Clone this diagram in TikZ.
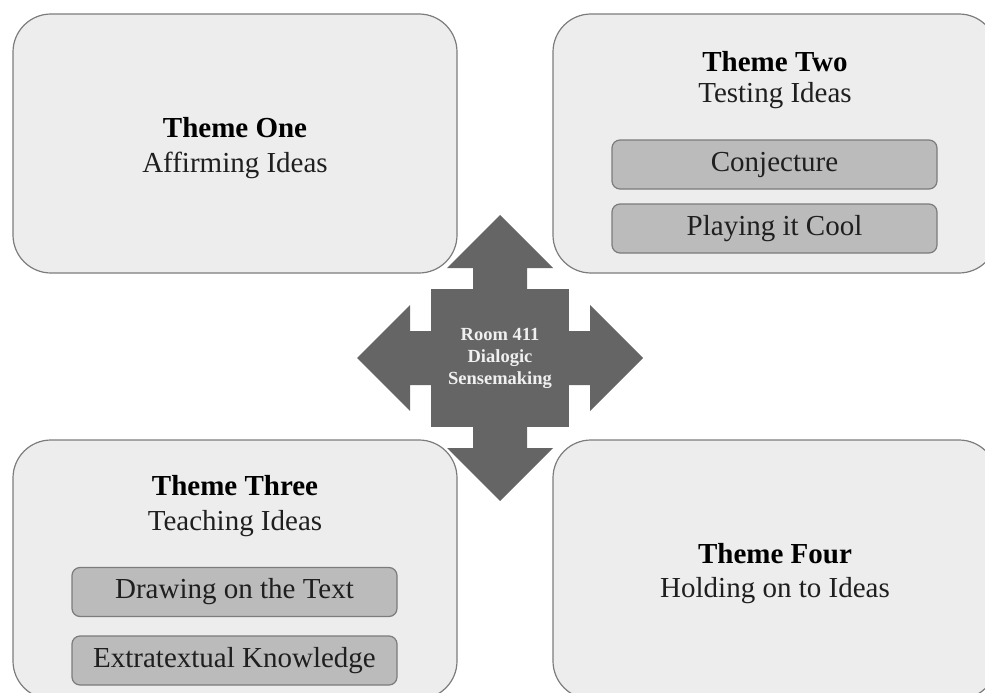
\documentclass[tikz,border=0pt]{standalone}
\usepackage{fontspec}
\setmainfont{Liberation Serif}
\usepackage{tikz}

\definecolor{boxfill}{HTML}{EDEDED}
\definecolor{boxline}{HTML}{7C7C7C}
\definecolor{subfill}{HTML}{BBBBBB}
\definecolor{arrowfill}{HTML}{656565}

\begin{document}
\begin{tikzpicture}[x=1pt, y=-1pt,
    theme/.style={draw=boxline, fill=boxfill, line width=1.2pt, rounded corners=38pt,
        minimum width=444pt, minimum height=259pt, inner sep=0pt},
    subtheme/.style={draw=boxline, fill=subfill, line width=1.2pt, rounded corners=8pt,
        minimum width=325pt, minimum height=49pt, inner sep=0pt,
        font=\fontsize{29}{35}\selectfont, text=black!88},
    title/.style={anchor=base, font=\fontsize{29}{35}\selectfont\bfseries},
    subtitle/.style={anchor=base, font=\fontsize{29}{35}\selectfont, text=black!88}]

    \useasboundingbox (0,0) rectangle (985,693);

    % Draw the four theme boxes
    \node[theme] (one) at (235,143.5) {};
    \node[theme] (two) at (775,143.5) {};
    \node[theme] (three) at (235,569.5) {};
    \node[theme] (four) at (775,569.5) {};

    % Label the themes
    \node[title] (oneTitle) at (235,137) {Theme One};
    \node[subtitle] (oneSub) at (235,172) {Affirming Ideas};
    \node[title] (twoTitle) at (775,71) {Theme Two};
    \node[subtitle] (twoSub) at (775,102) {Testing Ideas};
    \node[title] (threeTitle) at (235,495) {Theme Three};
    \node[subtitle] (threeSub) at (235,530) {Teaching Ideas};
    \node[title] (fourTitle) at (775,563) {Theme Four};
    \node[subtitle] (fourSub) at (775,597) {Holding on to Ideas};

    % Draw the sub-themes
    \node[subtheme] (conj) at (774.5,164.5) {Conjecture};
    \node[subtheme] (cool) at (774.5,228.5) {Playing it Cool};
    \node[subtheme] (text) at (234.5,592) {Drawing on the Text};
    \node[subtheme] (extra) at (234.5,660.5) {Extratextual Knowledge};

    % Draw the four-way arrow in the middle
    \begin{scope}[shift={(500,358)}]
        \fill[arrowfill] (-69,-69) rectangle (69,69);
        \foreach \a in {0,90,180,270}
            \fill[arrowfill, rotate=\a] (68,-27) -- (90,-27) -- (90,-53) -- (143,0)
                -- (90,53) -- (90,27) -- (68,27) -- cycle;
    \end{scope}
    \node[align=center, text=white!94!black, font=\fontsize{18.5}{22}\selectfont\bfseries]
        (room) at (500,358) {Room 411\\Dialogic\\Sensemaking};

\end{tikzpicture}
\end{document}
